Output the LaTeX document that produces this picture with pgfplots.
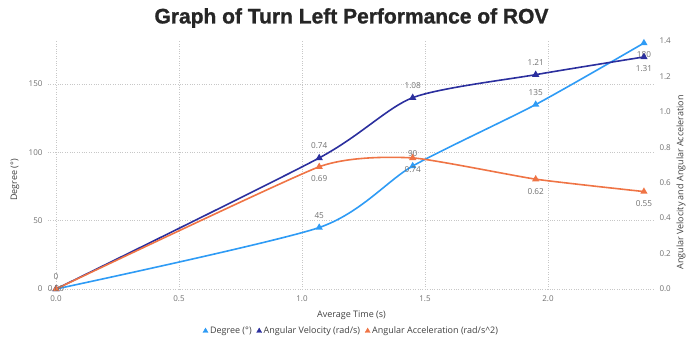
\documentclass[border=0pt]{standalone}
\usepackage{fontspec}
\setmainfont{Open Sans}
\newfontfamily\titlefont[BoldFeatures={FakeBold=1.2}]{Liberation Sans}
\usepackage{pgfplots}
\pgfplotsset{compat=1.18}
\definecolor{cdeg}{HTML}{2E9BF5}
\definecolor{cvel}{HTML}{2B2F9E}
\definecolor{cacc}{HTML}{EF7445}
\definecolor{tgray}{HTML}{707070}
\definecolor{lgray}{HTML}{404040}

\pgfplotsset{
  common/.style={
    scale only axis, width=607pt, height=248pt,
    xmin=-0.0325, xmax=2.435,
    ymin=0,
    clip=false,
    axis line style={draw=none},
    major tick length=0pt,
    tick label style={font=\fontsize{8}{9}\selectfont, text=tgray},
    /pgf/number format/assume math mode=true,
    label style={font=\fontsize{9}{10}\selectfont, text=lgray},
  },
  ser/.style={#1, line width=1.6pt, smooth, tension=0.42, mark=triangle*, mark size=2.6pt},
  lbl/.style={
    draw=none, mark=none, forget plot,
    point meta=explicit symbolic,
    nodes near coords,
    every node near coord/.append style={anchor=#1, inner sep=0pt, outer sep=9pt,
      font=\fontsize{8.2}{9}\selectfont, text=tgray},
  },
}

\begin{document}
\begin{tikzpicture}
\begin{axis}[common,
  name=ax,
  ymax=181.5,
  xtick={0,0.5,1,1.5,2},
  xticklabel style={/pgf/number format/fixed, /pgf/number format/fixed zerofill, /pgf/number format/precision=1, yshift=-3pt},
  ytick={0,50,100,150},
  yticklabel style={xshift=-2pt},
  grid=major,
  grid style={dotted, black!22, line width=0.5pt},
  xlabel={Average Time (s)},
  xlabel style={at={(axis description cs:0.5,-0.105)}, anchor=center},
  ylabel={Degree (°)},
  ylabel style={at={(axis description cs:-0.0544,0.44)}, anchor=center},
]
\addplot[ser=cdeg] coordinates {(0,0) (1.07,45) (1.45,90) (1.95,135) (2.39,180)};
\addplot[lbl=south] coordinates {(0,0)[0] (1.07,45)[45] (1.45,90)[90] (1.95,135)[135]};
\addplot[lbl=north] coordinates {(2.39,180)[180]};
\end{axis}
\begin{axis}[common,
  ymax=1.4,
  axis x line=none,
  axis y line*=right,
  ytick={0,0.2,...,1.4},
  yticklabel style={/pgf/number format/fixed, /pgf/number format/fixed zerofill, /pgf/number format/precision=1, xshift=1pt},
  ylabel={Angular Velocity and Angular Acceleration},
  ylabel style={at={(axis description cs:1.043,0.43)}, anchor=center},
  legend style={at={(axis description cs:0.5,0)}, anchor=center, yshift=-42pt,
    draw=none, fill=none, legend columns=-1,
    font=\fontsize{9}{10}\selectfont, text=lgray,
    /tikz/every even column/.append style={column sep=3pt},
    inner sep=0pt},
  legend image code/.code={\draw[#1] plot coordinates {(0.12cm,0cm)};},
]
\addlegendimage{only marks, mark=triangle*, mark size=2.9pt, cdeg}
\addlegendentry{Degree (°)}
\addlegendimage{only marks, mark=triangle*, mark size=2.9pt, cvel}
\addlegendentry{Angular Velocity (rad/s)}
\addlegendimage{only marks, mark=triangle*, mark size=2.9pt, cacc}
\addlegendentry{Angular Acceleration (rad/s\textasciicircum 2)}
\addplot[ser=cvel, forget plot] coordinates {(0,0) (1.07,0.74) (1.45,1.08) (1.95,1.21) (2.39,1.31)};
\addplot[ser=cacc, tension=0.3, forget plot] coordinates {(0,0) (1.07,0.69) (1.45,0.74) (1.95,0.62) (2.39,0.55)};
\addplot[lbl=center] coordinates {(0,0)[0.00]};
\addplot[lbl=south] coordinates {(1.07,0.74)[0.74] (1.45,1.08)[1.08] (1.95,1.21)[1.21]};
\addplot[lbl=north] coordinates {(2.39,1.31)[1.31]};
\addplot[lbl=north] coordinates {(1.07,0.69)[0.69] (1.45,0.74)[0.74] (1.95,0.62)[0.62] (2.39,0.55)[0.55]};
\end{axis}
\node[font=\titlefont\bfseries\fontsize{21}{24}\selectfont, text=black!85] at ([yshift=23pt]ax.north) {Graph of Turn Left Performance of ROV};
\pgfresetboundingbox
\path[use as bounding box] ([xshift=-48pt,yshift=-54pt]ax.south west) rectangle ([xshift=35pt,yshift=41pt]ax.north east);
\end{tikzpicture}
\end{document}
